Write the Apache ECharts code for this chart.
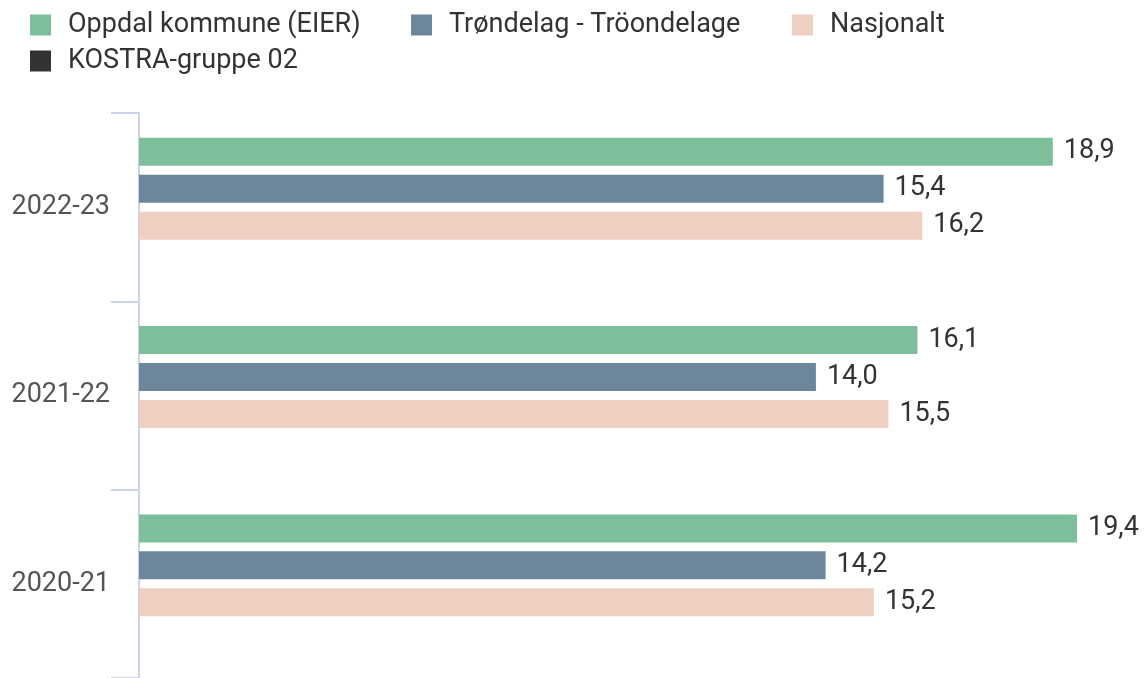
<!DOCTYPE html>
<html>
<head>
<meta charset="utf-8">
<script src="https://cdn.jsdelivr.net/npm/echarts@6/dist/echarts.min.js"></script>
<style>
    html, body { margin: 0; padding: 0; background: #fff; }
    #chart { width: 1145px; height: 678px; }
</style>
</head>
<body>
<div id="chart"></div>
<script>
// kategorier (øverst først)
const years = ['2022-23', '2021-22', '2020-21'];

const seriesNames = ['Oppdal kommune (EIER)', 'Trøndelag - Tröondelage', 'Nasjonalt', 'KOSTRA-gruppe 02'];
const oppdal = [18.9, 16.1, 19.4];
const trondelag = [15.4, 14.0, 14.2];
const nasjonalt = [16.2, 15.5, 15.2];
const kostra = [null, null, null]; // ingen data, men plass reserveres

const colors = ['#7dbf9b', '#6c869b', '#eecfc1', '#333333'];

const chart = echarts.init(document.getElementById('chart'));

const values = [oppdal, trondelag, nasjonalt, kostra];
const seriesData = seriesNames.map((name, i) => {
    return {
        name: name,
        type: 'bar',
        data: values[i],
        barWidth: 28,
        barGap: '32%',
        itemStyle: { color: colors[i] },
        label: {
            show: true,
            position: 'right',
            distance: 11,
            fontFamily: 'Roboto',
            fontSize: 27,
            color: '#333',
            formatter: (p) => p.value.toFixed(1).replace('.', ',')
        }
    };
});

// faste bredder på de to første legendene for jevn avstand
const legendData = seriesNames.map((name, i) => {
    return i < 2 ? { name: name, textStyle: { width: 339 } } : { name: name };
});

const option = {
    animation: false,
    color: colors,
    legend: {
        left: 25,
        top: 4,
        itemWidth: 21,
        itemHeight: 21,
        itemGap: 4,
        icon: 'rect',
        textStyle: {
            fontFamily: 'Roboto',
            fontSize: 27,
            color: '#333',
            lineHeight: 32,
            padding: [0, 0, 0, 12]
        },
        data: legendData
    },
    grid: {
        left: 139,
        right: 39,
        top: 113,
        bottom: 0
    },
    xAxis: {
        type: 'value',
        min: 0,
        max: 20,
        show: false
    },
    yAxis: {
        type: 'category',
        inverse: true,
        data: years,
        axisLine: { show: true, lineStyle: { color: '#c9d3ea', width: 2 } },
        axisTick: { show: true, length: 28, lineStyle: { color: '#c9d3ea', width: 2 } },
        axisLabel: {
            margin: 29,
            fontFamily: 'Roboto',
            fontSize: 27,
            color: '#555'
        }
    },
    series: seriesData
};

chart.setOption(option);
</script>
</body>
</html>
